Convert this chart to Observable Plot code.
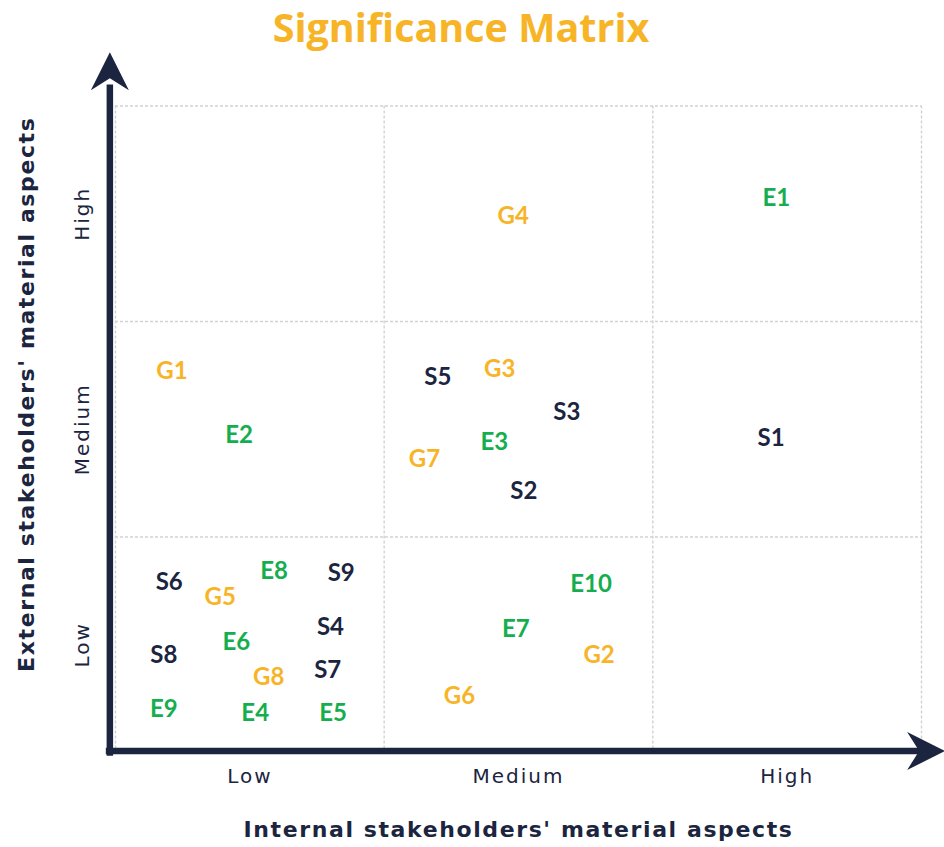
<!DOCTYPE html>
<html>
<head>
<meta charset="utf-8">
<script src="https://cdn.jsdelivr.net/npm/d3@7"></script>
<script src="https://cdn.jsdelivr.net/npm/@observablehq/plot@0.6"></script>
<style>
  html, body { margin: 0; padding: 0; background: #fff; }
  #wrap { position: relative; width: 944px; height: 847px; }
  #title { position: absolute; left: 0; top: 2px; width: 922px; text-align: center;
           font-family: "Open Sans", Lato, sans-serif; font-weight: 700; font-size: 39.5px;
           color: #F8B427; line-height: 50px; }
</style>
</head>
<body>
<div id="wrap">
  <div id="title">Significance Matrix</div>
</div>
<script>
// Level categories (tick labels)
const levels = ["Low", "Medium", "High"];
const xTitle = "Internal stakeholders' material aspects";
const yTitle = "External stakeholders' material aspects";

// Material aspects
const codes    = ["E1","G4","G1","E2","S5","G3","S3","E3","G7","S2","S1","S6","G5","E8","S9","S4","E6","S8","G8","S7","E9","E4","E5","E10","E7","G2","G6"];
const groups   = ["E","G","G","E","S","G","S","E","G","S","S","S","G","E","S","S","E","S","G","S","E","E","E","E","E","G","G"];
const internal = [2.46,1.48,0.21,0.46,1.20,1.43,1.68,1.41,1.15,1.52,2.44,0.20,0.39,0.59,0.84,0.80,0.45,0.18,0.57,0.79,0.18,0.52,0.81,1.77,1.49,1.80,1.28];
const external = [2.57,2.49,1.77,1.47,1.74,1.78,1.58,1.44,1.36,1.21,1.46,0.79,0.72,0.84,0.83,0.58,0.51,0.45,0.35,0.38,0.20,0.18,0.18,0.78,0.57,0.45,0.26];

const groupDomain = ["E","S","G"];
const groupColors = ["#15AE4F","#1B2540","#F8B427"];

const points = codes.map((c, i) => ({code: c, group: groups[i], x: internal[i], y: external[i]}));

const navy = "#1B2540";
const axisFont = "'DejaVu Sans', Inter, sans-serif";
const stealth = {
  draw(ctx) {
    ctx.moveTo(0, 0);
    ctx.lineTo(19, 38);
    ctx.lineTo(0, 26);
    ctx.lineTo(-19, 38);
    ctx.closePath();
  }
};

const axisLines = [
  {x1: -0.021, y1: -0.015, x2: -0.021, y2: 3.1},
  {x1: -0.036, y1: 0.007, x2: 3.04, y2: 0.007}
];
const arrowTips = [
  {x: -0.021, y: 3.25, r: 0},
  {x: 3.088, y: 0.007, r: 90}
];

const chart = Plot.plot({
  width: 944,
  height: 847,
  marginTop: 105.5,
  marginBottom: 95,
  marginLeft: 115,
  marginRight: 23,
  x: {domain: [0, 3], axis: null},
  y: {domain: [0, 3], axis: null},
  color: {domain: groupDomain, range: groupColors},
  style: {overflow: "visible", background: "transparent"},
  marks: [
    Plot.ruleX([0, 1, 2, 3], {stroke: "#d2d2d2", strokeWidth: 1.4, strokeDasharray: "3,2"}),
    Plot.ruleY([1, 2, 3], {stroke: "#d2d2d2", strokeWidth: 1.4, strokeDasharray: "3,2"}),
    Plot.link(axisLines, {x1: "x1", y1: "y1", x2: "x2", y2: "y2", stroke: navy, strokeWidth: 6.5, strokeLinecap: "butt"}),
    Plot.dot(arrowTips, {x: "x", y: "y", rotate: "r", symbol: stealth, fill: navy, stroke: "none", r: 10}),
    Plot.text(levels, {x: (d, i) => i + 0.5, frameAnchor: "bottom", lineAnchor: "middle", textAnchor: "middle", dy: 24, fontSize: 20, fontFamily: axisFont, fontWeight: 400, fill: navy}),
    Plot.text(levels, {y: (d, i) => i + 0.5, frameAnchor: "left", lineAnchor: "middle", textAnchor: "middle", dx: -33, rotate: -90, fontSize: 20, fontFamily: axisFont, fontWeight: 400, fill: navy}),
    Plot.text([xTitle], {frameAnchor: "bottom", lineAnchor: "middle", textAnchor: "middle", dy: 77, fontSize: 22, fontWeight: 700, fontFamily: axisFont, fill: navy}),
    Plot.text([yTitle], {frameAnchor: "left", lineAnchor: "middle", textAnchor: "middle", dx: -89, dy: -35, rotate: -90, fontSize: 22, fontWeight: 700, fontFamily: axisFont, fill: navy}),
    Plot.text(points, {x: "x", y: "y", text: "code", fill: "group", fontSize: 24, fontWeight: 700, fontFamily: "Lato, 'Open Sans', sans-serif"})
  ]
});
// letter spacing to approximate the wider geometric face of the original
d3.select(chart).selectAll("text")
  .filter(function () { return levels.includes(this.textContent); })
  .attr("letter-spacing", "2px");
d3.select(chart).selectAll("text")
  .filter(function () { return this.textContent === xTitle || this.textContent === yTitle; })
  .attr("letter-spacing", "1.6px");
document.getElementById("wrap").appendChild(chart);
</script>
</body>
</html>
